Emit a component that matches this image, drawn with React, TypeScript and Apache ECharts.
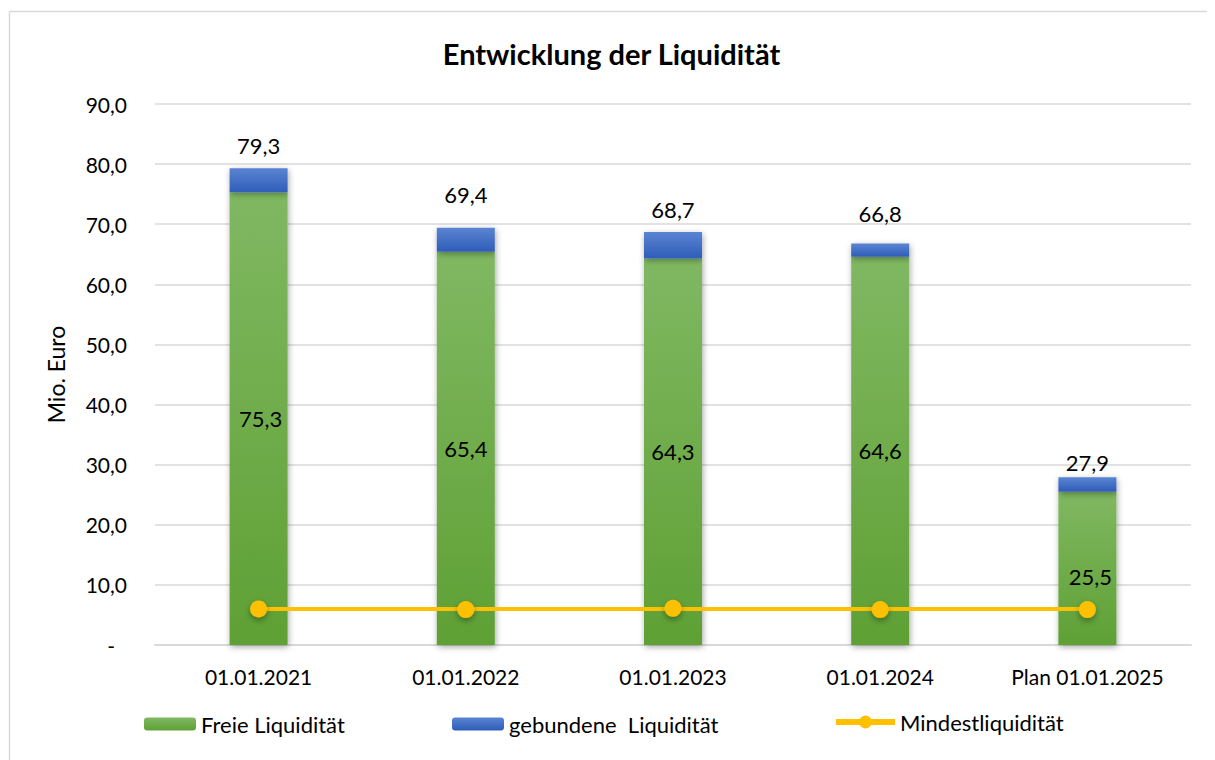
import React, { useEffect, useRef } from "react";
import * as echarts from "echarts";

const categories = ["01.01.2021", "01.01.2022", "01.01.2023", "01.01.2024", "Plan 01.01.2025"];
const freieLiquiditaet = [75.3, 65.4, 64.3, 64.6, 25.5];
const gebundeneLiquiditaet = [4.0, 4.0, 4.4, 2.2, 2.4];
const gesamtLiquiditaet = [79.3, 69.4, 68.7, 66.8, 27.9];
const mindestLiquiditaet = [6.0, 5.9, 6.1, 5.9, 5.9];

const FONT = "Lato, 'Noto Sans', sans-serif";
const fmt = (v: number) => v.toFixed(1).replace(".", ",");

// manual label nudges (as in the original Excel chart)
const totalLabelOffsets = [[0, 0], [0, -10], [0, 0], [0, -7], [0, 8]];
const freeLabelOffsets = [[2, 0], [0, 0], [0, 0], [0, 0], [3, 8]];

export default function App() {
  const ref = useRef<HTMLDivElement>(null);
  useEffect(() => {
    document.documentElement.style.overflow = "hidden";
    document.body.style.overflow = "hidden";
    if (!ref.current) return;
    const chart = echarts.init(ref.current, null, { renderer: "svg" });
    const green = {
      type: "linear", x: 0, y: 0, x2: 0, y2: 1,
      colorStops: [{ offset: 0, color: "#80B862" }, { offset: 1, color: "#5FA034" }],
    };
    const blue = {
      type: "linear", x: 0, y: 0, x2: 0, y2: 1,
      colorStops: [{ offset: 0, color: "#5B84D2" }, { offset: 1, color: "#2E5DB8" }],
    };
    const legendBase = {
      top: 705,
      padding: 0,
      itemHeight: 13,
      itemWidth: 52,
      textStyle: { fontFamily: FONT, fontSize: 22, color: "#000" },
    };
    chart.setOption({
      animation: false,
      backgroundColor: "#fff",
      title: {
        text: "Entwicklung der Liquidität",
        left: "center",
        top: 26,
        textStyle: { fontFamily: FONT, fontSize: 29, fontWeight: "bold", color: "#000" },
      },
      graphic: [
        {
          type: "line",
          shape: { x1: 1.5, y1: 3.5, x2: 1300, y2: 3.5 },
          style: { stroke: "#d9d9d9", lineWidth: 1.5 },
          silent: true,
        },
        {
          type: "line",
          shape: { x1: 1.5, y1: 3.5, x2: 1.5, y2: 900 },
          style: { stroke: "#d9d9d9", lineWidth: 1.5 },
          silent: true,
        },
      ],
      legend: [
        { ...legendBase, left: 136, data: ["Freie Liquidität"] },
        { ...legendBase, left: 444, data: ["gebundene  Liquidität"] },
        {
          ...legendBase,
          left: 825,
          itemWidth: 59,
          itemHeight: 16,
          top: 703,
          data: [
            {
              name: "Mindestliquidität",
              lineStyle: { width: 6, color: "#FFC000" },
              itemStyle: { color: "#FFC000" },
            },
          ],
        },
      ],
      grid: { left: 147, right: 24, top: 96, bottom: 115, containLabel: false },
      xAxis: {
        type: "category",
        data: categories,
        axisTick: { show: false },
        axisLine: { lineStyle: { color: "#d9d9d9", width: 2 } },
        axisLabel: { fontFamily: FONT, fontSize: 21, color: "#000", margin: 21 },
      },
      yAxis: {
        type: "value",
        min: 0,
        max: 90,
        interval: 10,
        name: "Mio. Euro",
        nameLocation: "middle",
        nameRotate: 90,
        nameGap: 88,
        nameTextStyle: { fontFamily: FONT, fontSize: 23, color: "#000" },
        axisLine: { show: false },
        axisTick: { show: false },
        splitLine: { lineStyle: { color: "#d9d9d9", width: 1.5 } },
        axisLabel: {
          fontFamily: FONT,
          fontSize: 21,
          color: "#000",
          margin: 28,
          formatter: (v: number) => (v === 0 ? "{z|-}" : fmt(v)),
          rich: { z: { fontFamily: FONT, fontSize: 21, color: "#000", padding: [0, 12, 0, 0] } },
        },
      },
      series: [
        {
          name: "Freie Liquidität",
          type: "bar",
          stack: "liq",
          barWidth: "28%",
          itemStyle: {
            color: green,
            shadowColor: "rgba(0,0,0,0.35)",
            shadowBlur: 6,
            shadowOffsetX: 1,
            shadowOffsetY: 2,
          },
          label: {
            show: true,
            position: "inside",
            fontFamily: FONT,
            fontSize: 22,
            color: "#000",
            formatter: (p: any) => fmt(p.value),
          },
          data: freieLiquiditaet.map((v, i) => ({ value: v, label: { offset: freeLabelOffsets[i] } })),
        },
        {
          name: "gebundene  Liquidität",
          type: "bar",
          stack: "liq",
          barWidth: "28%",
          itemStyle: {
            color: blue,
            shadowColor: "rgba(0,0,0,0.35)",
            shadowBlur: 6,
            shadowOffsetX: 1,
            shadowOffsetY: 2,
          },
          label: {
            show: true,
            position: "top",
            distance: 12,
            fontFamily: FONT,
            fontSize: 22,
            color: "#000",
            formatter: (p: any) => fmt(gesamtLiquiditaet[p.dataIndex]),
          },
          data: gebundeneLiquiditaet.map((v, i) => ({ value: v, label: { offset: totalLabelOffsets[i] } })),
        },
        {
          name: "Mindestliquidität",
          type: "line",
          z: 5,
          symbol: "circle",
          symbolSize: 17,
          color: "#FFC000",
          lineStyle: {
            color: "#FFC000",
            width: 7,
            shadowColor: "rgba(0,0,0,0.35)",
            shadowBlur: 6,
            shadowOffsetY: 3,
          },
          itemStyle: {
            color: "#FFC000",
            shadowColor: "rgba(0,0,0,0.35)",
            shadowBlur: 6,
            shadowOffsetY: 3,
          },
          data: mindestLiquiditaet,
        },
      ],
    });
    return () => chart.dispose();
  }, []);
  return <div ref={ref} style={{ width: 1207, height: 752 }} />;
}
